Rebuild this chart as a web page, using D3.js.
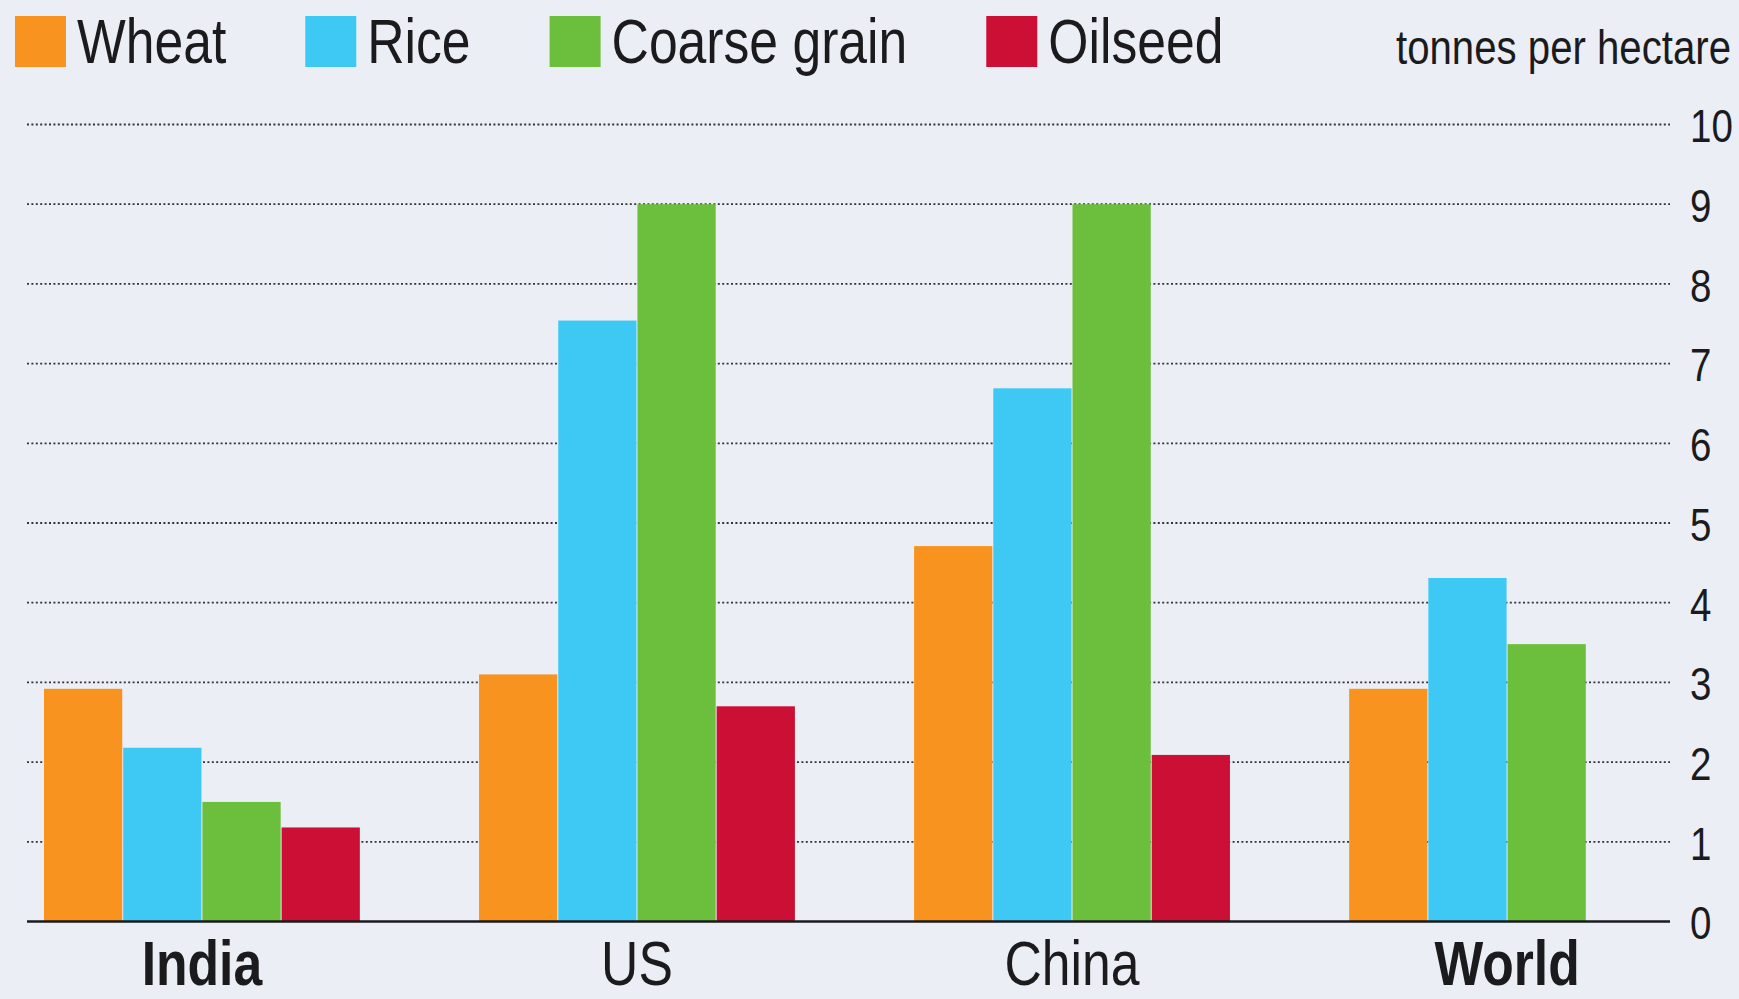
<!DOCTYPE html>
<html>
<head>
<meta charset="utf-8">
<script src="https://cdn.jsdelivr.net/npm/d3@7"></script>
<style>
  html, body { margin: 0; padding: 0; background: #eceef6; }
  svg { display: block; }
  text { font-family: "Liberation Sans", Arial, sans-serif; fill: #1b1b1d; }
</style>
</head>
<body>
<svg id="chart" width="1739" height="999"></svg>
<script>
// Crop yields, tonnes per hectare
const regions = ["India", "US", "China", "World"];
const crops = ["Wheat", "Rice", "Coarse grain", "Oilseed"];
const wheat = [2.92, 3.10, 4.71, 2.92];
const rice = [2.18, 7.54, 6.69, 4.31];
const coarseGrain = [1.50, 9.0, 9.0, 3.48];
const oilseed = [1.18, 2.70, 2.09, null];
const yTicks = [0, 1, 2, 3, 4, 5, 6, 7, 8, 9, 10];
const boldRegions = ["India", "World"];
const unitLabel = "tonnes per hectare";

const colors = {
  "Wheat": "#f7931e",
  "Rice": "#3ec9f5",
  "Coarse grain": "#6cbf3c",
  "Oilseed": "#cc0f35"
};

const seriesValues = { "Wheat": wheat, "Rice": rice, "Coarse grain": coarseGrain, "Oilseed": oilseed };

// narrow type: horizontal squeeze of the regular face
const NARROW = 0.82;

const rows = [];
regions.forEach((r, i) => {
  crops.forEach(c => {
    const v = seriesValues[c][i];
    if (v != null) rows.push({ region: r, crop: c, value: v });
  });
});

const svg = d3.select("#chart");

const gridLeft = 27, gridRight = 1670;
const y = d3.scaleLinear().domain([0, 10]).range([921.5, 124.5]);

const x0 = d3.scaleBand().domain(regions).range([44, 1665]).paddingInner(0.274).paddingOuter(0);
const x1 = d3.scaleBand().domain(crops).range([0, x0.bandwidth()]).paddingInner(0.012).paddingOuter(0);

// dotted gridlines
svg.append("g")
  .selectAll("line")
  .data(yTicks.filter(d => d > 0))
  .join("line")
  .attr("x1", gridLeft)
  .attr("x2", gridRight)
  .attr("y1", d => y(d))
  .attr("y2", d => y(d))
  .attr("stroke", "#33333d")
  .attr("stroke-width", 1.8)
  .attr("stroke-dasharray", "2,2.4");

// bars
svg.append("g")
  .selectAll("rect")
  .data(rows)
  .join("rect")
  .attr("x", d => x0(d.region) + x1(d.crop))
  .attr("width", x1.bandwidth())
  .attr("y", d => y(d.value))
  .attr("height", d => y(0) - y(d.value))
  .attr("fill", d => colors[d.crop]);

// baseline
svg.append("line")
  .attr("x1", gridLeft)
  .attr("x2", gridRight)
  .attr("y1", y(0))
  .attr("y2", y(0))
  .attr("stroke", "#1b1b1d")
  .attr("stroke-width", 2.6);

// right-hand value axis
const yAxis = d3.axisRight(y).tickValues(yTicks).tickSize(0).tickPadding(0).tickFormat(d3.format("d"));
const ay = svg.append("g").attr("transform", `translate(1690,0)`).call(yAxis);
ay.select(".domain").remove();
ay.selectAll("text")
  .attr("font-size", 47)
  .attr("font-family", "'Liberation Sans', sans-serif")
  .attr("fill", "#1b1b1d")
  .attr("x", 0)
  .attr("dy", "0.37em")
  .attr("transform", `scale(${NARROW},1)`);

// region labels
const xAxis = d3.axisBottom(x0).tickSize(0).tickPadding(0);
const ax = svg.append("g").attr("transform", `translate(0,${y(0)})`).call(xAxis);
ax.select(".domain").remove();
ax.selectAll("text")
  .attr("font-size", 63)
  .attr("font-family", "'Liberation Sans', sans-serif")
  .attr("font-weight", d => boldRegions.includes(d) ? "bold" : "normal")
  .attr("fill", "#1b1b1d")
  .attr("dy", null)
  .attr("y", 63.5)
  .attr("transform", `scale(${NARROW},1)`);

// legend
const legend = svg.append("g");
let lx = 15;
crops.forEach(c => {
  const item = legend.append("g");
  item.append("rect")
    .attr("x", lx).attr("y", 16)
    .attr("width", 51).attr("height", 51)
    .attr("fill", colors[c]);
  const t = item.append("g")
    .attr("transform", `translate(${lx + 62},63) scale(${NARROW},1)`)
    .append("text")
    .attr("font-size", 63)
    .text(c);
  lx += 62 + t.node().getComputedTextLength() * NARROW + 79;
});

// unit label
svg.append("g")
  .attr("transform", `translate(1731,64) scale(${NARROW},1)`)
  .append("text")
  .attr("text-anchor", "end")
  .attr("font-size", 49)
  .text(unitLabel);
</script>
</body>
</html>
